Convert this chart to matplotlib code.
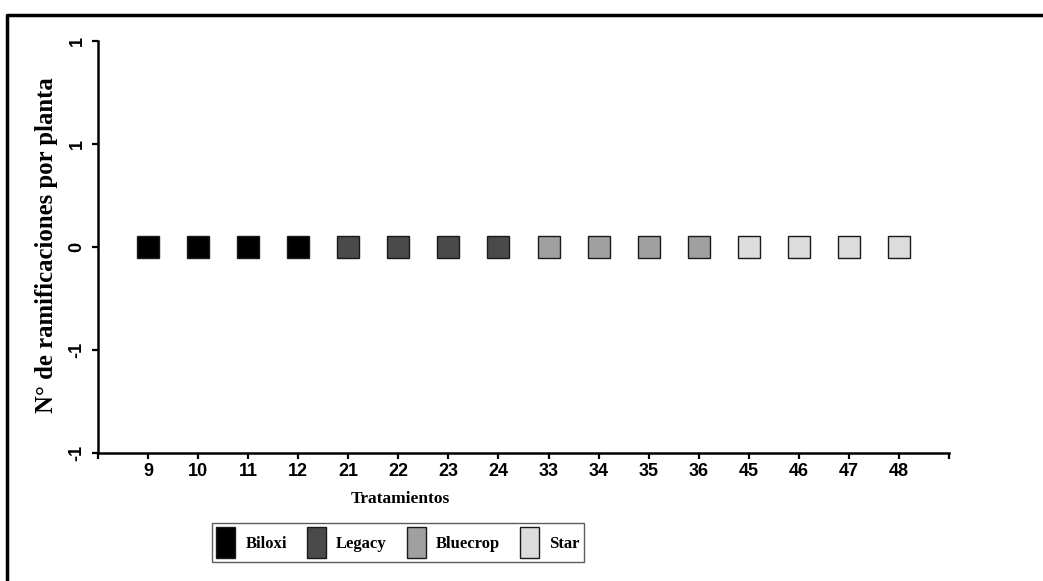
import matplotlib
matplotlib.use("Agg")
import matplotlib.pyplot as plt
from matplotlib.patches import Patch
from matplotlib.lines import Line2D

# data
tratamientos = ['9', '10', '11', '12', '21', '22', '23', '24',
                '33', '34', '35', '36', '45', '46', '47', '48']
ramificaciones = [0, 0, 0, 0, 0, 0, 0, 0, 0, 0, 0, 0, 0, 0, 0, 0]
variedad = ['Biloxi'] * 4 + ['Legacy'] * 4 + ['Bluecrop'] * 4 + ['Star'] * 4
variedades = ['Biloxi', 'Legacy', 'Bluecrop', 'Star']
colores = {'Biloxi': '#000000', 'Legacy': '#4a4a4a',
           'Bluecrop': '#a0a0a0', 'Star': '#dcdcdc'}
yticks = [-1, -0.5, 0, 0.5, 1]
ytick_labels = ['-1', '-1', '0', '1', '1']

serif = ['Liberation Serif', 'DejaVu Serif']
sans = ['Liberation Sans', 'DejaVu Sans']

fig = plt.figure(figsize=(10.43, 5.81), dpi=100)
ax = fig.add_axes([98 / 1043, 1 - 453 / 581, (949 - 98) / 1043, (453 - 41) / 581])

x = list(range(1, len(tratamientos) + 1))
for xi, yi, v in zip(x, ramificaciones, variedad):
    ax.plot(xi, yi, marker='s', markersize=15.8, markerfacecolor=colores[v],
            markeredgecolor='#1a1a1a', markeredgewidth=1.0, linestyle='none')

ax.set_xlim(0, len(tratamientos) + 1)
ax.set_ylim(-1, 1)
ax.set_xticks(range(0, len(tratamientos) + 2))
ax.set_xticklabels([''] + tratamientos + [''], fontfamily=sans,
                   fontweight='bold', fontsize=13)
ax.set_yticks(yticks)
ax.set_yticklabels(ytick_labels, fontfamily=sans, fontweight='bold',
                   fontsize=13, rotation=90, va='center')

for s in ['top', 'right']:
    ax.spines[s].set_visible(False)
for s in ['left', 'bottom']:
    ax.spines[s].set_linewidth(1.8)
ax.tick_params(axis='both', direction='out', length=4, width=1.6, colors='black')
ax.tick_params(axis='x', pad=3)
ax.tick_params(axis='y', pad=5)

fig.text(400 / 1043, 1 - 499 / 581, 'Tratamientos', ha='center', va='center',
         fontfamily=serif, fontweight='bold', fontsize=12.5)
fig.text(47 / 1043, 1 - 245 / 581, 'N° de ramificaciones por planta',
         ha='center', va='center', rotation=90,
         fontfamily=serif, fontweight='bold', fontsize=17.8)

handles = [Patch(facecolor=colores[v], edgecolor='#1a1a1a', linewidth=1.0)
           for v in variedades]
leg = fig.legend(handles, variedades, loc='center', ncol=4,
                 bbox_to_anchor=(398 / 1043, 1 - 542.5 / 581),
                 prop={'family': serif, 'weight': 'bold', 'size': 12},
                 frameon=True, fancybox=False, edgecolor='#333333',
                 handlelength=1.15, handleheight=2.5, handletextpad=0.6,
                 columnspacing=1.2, borderpad=0.25, borderaxespad=0)
leg.get_frame().set_linewidth(1.0)

# outer frame (cut off at right and bottom)
fig.add_artist(Line2D([7 / 1043, 7 / 1043, 1], [0, 1 - 15 / 581, 1 - 15 / 581],
                      transform=fig.transFigure, color='black', linewidth=2.5))

fig.savefig('out.png', dpi=100)
